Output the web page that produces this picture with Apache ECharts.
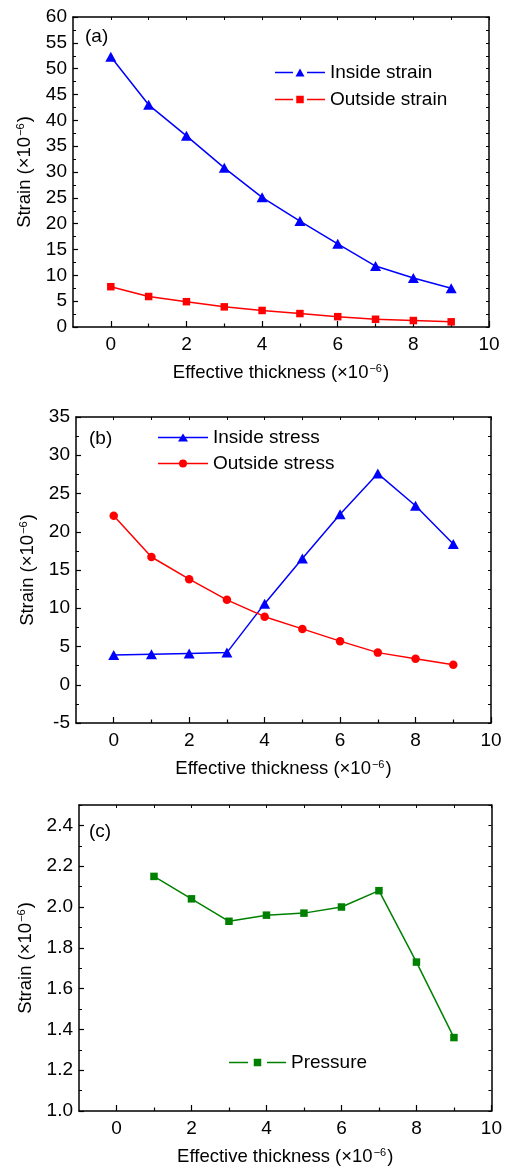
<!DOCTYPE html>
<html>
<head>
<meta charset="utf-8">
<title>Strain vs effective thickness</title>
<script src="https://cdn.jsdelivr.net/npm/echarts@6/dist/echarts.min.js"></script>
<style>
  html, body { margin: 0; padding: 0; background: #fff; }
  #chart { width: 505px; height: 1173px; }
</style>
</head>
<body>
<div id="chart"></div>
<script>
// ---- data ----
const thickness = [0, 1, 2, 3, 4, 5, 6, 7, 8, 9];
const insideStrain = [52.3, 43.0, 37.0, 30.8, 25.1, 20.5, 16.1, 11.8, 9.5, 7.5];
const outsideStrain = [7.8, 5.9, 4.9, 3.9, 3.2, 2.6, 2.0, 1.5, 1.25, 1.0];

const insideStress = [3.9, 4.0, 4.1, 4.2, 10.6, 16.5, 22.3, 27.6, 23.4, 18.4];
const outsideStress = [22.1, 16.7, 13.8, 11.1, 8.9, 7.3, 5.7, 4.2, 3.4, 2.6];

const thicknessC = [1, 2, 3, 4, 5, 6, 7, 8, 9];
const pressure = [2.15, 2.04, 1.93, 1.96, 1.97, 2.00, 2.08, 1.73, 1.36];

const xMajorTicks = [0, 2, 4, 6, 8, 10];
const xMinorTicks = [1, 3, 5, 7, 9];
const xTopTicks = [0, 1, 2, 3, 4, 5, 6, 7, 8, 9, 10];
const yTicksC = [1.0, 1.2, 1.4, 1.6, 1.8, 2.0, 2.2, 2.4];
const yMinorTicksC = [1.1, 1.3, 1.5, 1.7, 1.9, 2.1, 2.3, 2.5];
const yRightTicksC = [1.0, 1.1, 1.2, 1.3, 1.4, 1.5, 1.6, 1.7, 1.8, 1.9, 2.0, 2.1, 2.2, 2.3, 2.4, 2.5];

const BLUE = '#0000ff', RED = '#ff0000', GREEN = '#008000';
const FONT = "'Liberation Sans', Arial, sans-serif";
const FS = 19;

const pairs = (xs, ys) => xs.map((x, i) => [x, ys[i]]);

// legend glyphs: line – marker – line, drawn in the legend item box
const ICON_TRI_GAP = 'path://M0,4.25h18v1.5h-18z M20.5,9 L25,1 L29.5,9 Z M32,4.25h18v1.5h-18z';
const ICON_SQ_GAP = 'path://M0,4.25h18v1.5h-18z M21.25,1.25h7.5v7.5h-7.5z M32,4.25h18v1.5h-18z';
const ICON_TRI_LINE = 'path://M0,4.25h50v1.5h-50z M20,9 L25,1 L30,9 Z';
const ICON_CIRCLE_LINE = 'path://M0,4.25h50v1.5h-50z M21,5 A4,4 0 1 1 29,5 A4,4 0 1 1 21,5 Z';
const ICON_SQ_GAP_C = 'path://M0,4.25h19v1.5h-19z M24.75,1.25h7.5v7.5h-7.5z M38,4.25h19v1.5h-19z';

const axisTitleRich = {
  a: { fontSize: 18.5, fontFamily: FONT, color: '#000' },
  s: { fontSize: 11, fontFamily: FONT, color: '#000', padding: [0, 1, 9, 1] }
};
const axisTitle = (word) => '{a|' + word + ' (×10}{s|−6}{a|)}';

const lineStyleAxis = { show: true, onZero: false, lineStyle: { color: '#000', width: 1.5 } };
const noLine = { show: false, onZero: false };

// bottom axes for one grid: labelled major axis, minor tick axis, top mirror axis
function xAxesFor(gi) {
  return [
    {
      gridIndex: gi, type: 'value', position: 'bottom', min: -1, max: 10,
      axisLine: lineStyleAxis,
      axisTick: { show: true, inside: true, length: 6, customValues: xMajorTicks, lineStyle: { color: '#000', width: 1.2 } },
      axisLabel: { show: true, customValues: xMajorTicks, margin: 8, fontSize: FS, fontFamily: FONT, color: '#000' },
      splitLine: { show: false },
      name: axisTitle('Effective thickness'), nameLocation: 'middle', nameGap: 36,
      nameTextStyle: { rich: axisTitleRich }
    },
    {
      gridIndex: gi, type: 'value', position: 'bottom', min: -1, max: 10,
      axisLine: noLine,
      axisTick: { show: true, inside: true, length: 3.5, customValues: xMinorTicks, lineStyle: { color: '#000', width: 1.2 } },
      axisLabel: { show: false },
      splitLine: { show: false }
    },
    {
      gridIndex: gi, type: 'value', position: 'top', min: -1, max: 10,
      axisLine: lineStyleAxis,
      axisTick: { show: true, inside: true, length: 3, customValues: xTopTicks, lineStyle: { color: '#000', width: 1 } },
      axisLabel: { show: false },
      splitLine: { show: false }
    }
  ];
}

function yAxesFor(gi, min, max, interval) {
  return [
    {
      gridIndex: gi, type: 'value', position: 'left', min: min, max: max, interval: interval,
      axisLine: lineStyleAxis,
      axisTick: { show: true, inside: true, length: 5, lineStyle: { color: '#000', width: 1.2 } },
      minorTick: { show: true, splitNumber: 2, length: 3, lineStyle: { color: '#000', width: 1 } },
      axisLabel: { margin: 6, fontSize: FS, fontFamily: FONT, color: '#000' },
      splitLine: { show: false },
      name: axisTitle('Strain'), nameLocation: 'middle', nameGap: 38,
      nameTextStyle: { rich: axisTitleRich }
    },
    {
      gridIndex: gi, type: 'value', position: 'right', min: min, max: max, interval: interval / 2,
      axisLine: lineStyleAxis,
      axisTick: { show: true, inside: true, length: 3, lineStyle: { color: '#000', width: 1 } },
      axisLabel: { show: false },
      splitLine: { show: false }
    }
  ];
}

const yAxesC = [
  {
    gridIndex: 2, type: 'value', position: 'left', min: 1.0, max: 2.5,
    axisLine: lineStyleAxis,
    axisTick: { show: true, inside: true, length: 5, customValues: yTicksC, lineStyle: { color: '#000', width: 1.2 } },
    axisLabel: { customValues: yTicksC, margin: 6, fontSize: FS, fontFamily: FONT, color: '#000',
      formatter: (v) => Number(v).toFixed(1) },
    splitLine: { show: false },
    name: axisTitle('Strain'), nameLocation: 'middle', nameGap: 41,
    nameTextStyle: { rich: axisTitleRich }
  },
  {
    gridIndex: 2, type: 'value', position: 'left', min: 1.0, max: 2.5,
    axisLine: noLine,
    axisTick: { show: true, inside: true, length: 3, customValues: yMinorTicksC, lineStyle: { color: '#000', width: 1 } },
    axisLabel: { show: false },
    splitLine: { show: false }
  },
  {
    gridIndex: 2, type: 'value', position: 'right', min: 1.0, max: 2.5,
    axisLine: lineStyleAxis,
    axisTick: { show: true, inside: true, length: 3, customValues: yRightTicksC, lineStyle: { color: '#000', width: 1 } },
    axisLabel: { show: false },
    splitLine: { show: false }
  }
];

const xAxis = [].concat(xAxesFor(0), xAxesFor(1), xAxesFor(2));
const yAxis = [].concat(yAxesFor(0, 0, 60, 5), yAxesFor(1, -5, 35, 5), yAxesC);
// axis indices: x main = 0,3,6 ; y main = 0,2,4

function lineSeries(name, xi, yi, data, color, symbol, size) {
  return {
    name: name, type: 'line', xAxisIndex: xi, yAxisIndex: yi, data: data,
    symbol: symbol, symbolSize: size, showSymbol: true,
    lineStyle: { color: color, width: 1.5 },
    itemStyle: { color: color, borderWidth: 0 },
    emphasis: { disabled: true },
    animation: false
  };
}

const legendText = { fontSize: FS, fontFamily: FONT, color: '#000' };
const panelLabel = (text, left, top) => ({
  text: text, left: left, top: top, padding: 0,
  textStyle: { fontSize: FS, fontWeight: 'normal', fontFamily: FONT, color: '#000' }
});

const option = {
  backgroundColor: '#fff',
  animation: false,
  title: [panelLabel('(a)', 85, 27), panelLabel('(b)', 89, 429), panelLabel('(c)', 89, 822)],
  grid: [
    { left: 73, top: 17, width: 416, height: 310 },
    { left: 76, top: 417, width: 415, height: 306 },
    { left: 79, top: 805, width: 416, height: 306 }
  ],
  xAxis: xAxis,
  yAxis: yAxis,
  legend: [
    {
      orient: 'vertical', left: 275, top: 63, padding: 0, itemGap: 8,
      itemWidth: 50, itemHeight: 10, textStyle: legendText, selectedMode: false,
      data: [
        { name: 'Inside strain', icon: ICON_TRI_GAP, itemStyle: { color: BLUE, borderWidth: 0 } },
        { name: 'Outside strain', icon: ICON_SQ_GAP, itemStyle: { color: RED, borderWidth: 0 } }
      ]
    },
    {
      orient: 'vertical', left: 158, top: 428, padding: 0, itemGap: 7,
      itemWidth: 50, itemHeight: 10, textStyle: legendText, selectedMode: false,
      data: [
        { name: 'Inside stress', icon: ICON_TRI_LINE, itemStyle: { color: BLUE, borderWidth: 0 } },
        { name: 'Outside stress', icon: ICON_CIRCLE_LINE, itemStyle: { color: RED, borderWidth: 0 } }
      ]
    },
    {
      orient: 'vertical', left: 229, top: 1053, padding: 0,
      itemWidth: 57, itemHeight: 10, textStyle: legendText, selectedMode: false,
      data: [
        { name: 'Pressure', icon: ICON_SQ_GAP_C, itemStyle: { color: GREEN, borderWidth: 0 } }
      ]
    }
  ],
  series: [
    lineSeries('Inside strain', 0, 0, pairs(thickness, insideStrain), BLUE, 'triangle', [11, 10]),
    lineSeries('Outside strain', 0, 0, pairs(thickness, outsideStrain), RED, 'rect', 7.5),
    lineSeries('Inside stress', 3, 2, pairs(thickness, insideStress), BLUE, 'triangle', [11, 10]),
    lineSeries('Outside stress', 3, 2, pairs(thickness, outsideStress), RED, 'circle', 8.5),
    lineSeries('Pressure', 6, 4, pairs(thicknessC, pressure), GREEN, 'rect', 7.5)
  ]
};

const chart = echarts.init(document.getElementById('chart'), null, { renderer: 'canvas' });
chart.setOption(option);
</script>
</body>
</html>
